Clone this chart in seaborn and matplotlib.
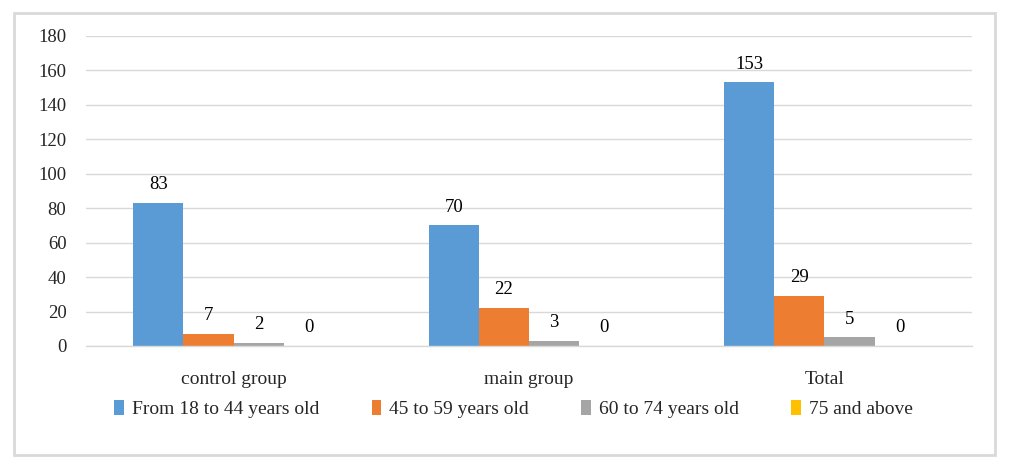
import numpy as np
import pandas as pd
import seaborn as sns
import matplotlib.pyplot as plt
from matplotlib.patches import Rectangle

groups = ["control group", "main group", "Total"]
ages = ["From 18 to 44 years old", "45 to 59 years old", "60 to 74 years old", "75 and above"]
age_18_44 = [83, 70, 153]
age_45_59 = [7, 22, 29]
age_60_74 = [2, 3, 5]
age_75_up = [0, 0, 0]
colors = ["#5B9BD5", "#ED7D31", "#A5A5A5", "#FFC000"]

rows = []
for name, vals in zip(ages, [age_18_44, age_45_59, age_60_74, age_75_up]):
    for g, v in zip(groups, vals):
        rows.append({"group": g, "age": name, "count": v})
df = pd.DataFrame(rows)

sns.set_style("white")
plt.rcParams['font.family'] = ['Liberation Serif', 'DejaVu Serif']

fig = plt.figure(figsize=(10.11, 4.71), dpi=100)
ax = fig.add_axes([0.085, 0.2654, 0.8764, 0.6582])

sns.barplot(data=df, x="group", y="count", hue="age", palette=colors,
            width=0.68, gap=0, saturation=1, linewidth=0, ax=ax, legend=True)

for c in ax.containers:
    ax.bar_label(c, fmt="%d", padding=7, fontsize=13.5, color="black")

ax.set_ylim(0, 180)
ax.set_yticks(range(0, 181, 20))
ax.set_xlim(-0.5, 2.5)
ax.yaxis.grid(True, color="#D9D9D9", linewidth=1)
ax.set_axisbelow(True)
for s in ["left", "top", "right"]:
    ax.spines[s].set_visible(False)
ax.spines["bottom"].set_color("#D9D9D9")
ax.spines["bottom"].set_linewidth(1)
ax.set_xlabel("")
ax.set_ylabel("")
ax.tick_params(axis="y", length=0, pad=14, labelsize=13.5)
ax.tick_params(axis="x", which="major", length=0, pad=18, labelsize=14)
ax.set_xticks([-0.5, 0.5, 1.5, 2.5], minor=True)
ax.tick_params(axis="x", which="minor", length=6, color="#D9D9D9", width=1, direction="out")

handles, labels = ax.get_legend_handles_labels()
ax.legend_.remove()
fig.legend(handles, labels, loc="center", bbox_to_anchor=(0.508, 0.131), ncol=4,
           frameon=False, fontsize=14, handlelength=0.5, handleheight=0.8,
           handletextpad=0.4, columnspacing=2.7)

fig.patches.append(Rectangle((14 / 1011, 1 - 455 / 471), 981 / 1011, 442 / 471,
                             transform=fig.transFigure, fill=False,
                             edgecolor="#D9D9D9", linewidth=2))

fig.savefig("out.png", dpi=100)
